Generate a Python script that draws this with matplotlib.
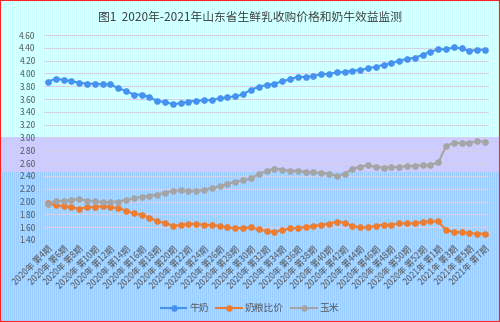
import numpy as np
import matplotlib
matplotlib.use('Agg')
import matplotlib.pyplot as plt
from matplotlib.patches import Rectangle

plt.rcParams['font.family'] = ['Noto Sans CJK SC', 'DejaVu Sans']

# -----------------------------------------------------------------------------
# data

weeks = ['2020年 第%d期' % w for w in range(4, 54)] + \
        ['2021年 第%d期' % w for w in range(1, 8)]

milk = [3.87, 3.92, 3.90, 3.88, 3.855, 3.84, 3.84, 3.83, 3.83, 3.77,
        3.725, 3.67, 3.67, 3.63, 3.57, 3.555, 3.52, 3.535, 3.56, 3.575,
        3.58, 3.585, 3.61, 3.63, 3.64, 3.675, 3.745, 3.79, 3.82, 3.84,
        3.875, 3.91, 3.945, 3.945, 3.96, 3.99, 3.99, 4.02, 4.02, 4.045,
        4.05, 4.08, 4.105, 4.135, 4.16, 4.20, 4.225, 4.245, 4.29, 4.34,
        4.375, 4.38, 4.405, 4.39, 4.35, 4.37, 4.37]

ratio = [1.985, 1.94, 1.93, 1.91, 1.89, 1.91, 1.915, 1.925, 1.915, 1.895,
         1.86, 1.815, 1.795, 1.75, 1.69, 1.665, 1.625, 1.63, 1.655, 1.645,
         1.64, 1.63, 1.62, 1.595, 1.585, 1.59, 1.595, 1.565, 1.54, 1.525,
         1.555, 1.58, 1.585, 1.605, 1.62, 1.635, 1.655, 1.685, 1.67, 1.615,
         1.595, 1.595, 1.625, 1.635, 1.64, 1.66, 1.66, 1.66, 1.685, 1.69,
         1.69, 1.555, 1.525, 1.52, 1.505, 1.50, 1.50]

corn = [1.965, 2.01, 2.01, 2.025, 2.04, 2.015, 2.005, 1.99, 1.995, 2.0,
        2.025, 2.05, 2.075, 2.09, 2.11, 2.14, 2.165, 2.175, 2.17, 2.17,
        2.18, 2.21, 2.24, 2.275, 2.31, 2.33, 2.36, 2.43, 2.475, 2.515,
        2.50, 2.48, 2.48, 2.465, 2.455, 2.45, 2.435, 2.40, 2.43, 2.515,
        2.54, 2.57, 2.54, 2.53, 2.535, 2.54, 2.55, 2.56, 2.57, 2.57,
        2.61, 2.865, 2.92, 2.91, 2.92, 2.945, 2.93]

series_names = ['牛奶', '奶粮比价', '玉米']
colors = ['#4592f0', '#ed7d31', '#a5a5a5']
title = '图1  2020年-2021年山东省生鲜乳收购价格和奶牛效益监测'

# -----------------------------------------------------------------------------

fig = plt.figure(figsize=(5, 3.22), dpi=100)

# striped background like the original picture
W, H = 500, 322
bg_img = np.zeros((H, W, 3))
cyan_a = np.array([0xcc, 0xff, 0xff]) / 255
cyan_b = np.array([0xe6, 0xff, 0xff]) / 255
lav = np.array([0xcc, 0xcc, 0xff]) / 255
blue = np.array([0x99, 0xcc, 0xff]) / 255
for c in range(W):
    bg_img[:137, c] = cyan_a if c % 2 == 0 else cyan_b
    bg_img[137:172, c] = lav
    bg_img[172:, c] = blue if c % 2 == 0 else lav
bg = fig.add_axes([0, 0, 1, 1])
bg.imshow(bg_img, extent=[0, W, H, 0], aspect='auto', interpolation='nearest')
bg.set_xlim(0, W)
bg.set_ylim(H, 0)
bg.axis('off')
bg.set_zorder(0)

ax = fig.add_axes([0.088, 0.2547, 0.89, 0.6366])
ax.set_zorder(1)
ax.patch.set_alpha(0)

x = np.arange(len(weeks))
for vals, name, col in zip([milk, ratio, corn], series_names, colors):
    ax.plot(x, vals, color=col, lw=1.5, marker='o', markersize=3.8,
            label=name, zorder=3)

ax.set_xlim(-0.5, len(weeks) - 0.5)
ax.set_ylim(1.4, 4.6)
ax.set_yticks(np.arange(1.4, 4.61, 0.2))
ax.set_yticklabels(['%.2f' % v for v in np.arange(1.4, 4.61, 0.2)])
ax.grid(axis='y', color='#dccfe4', lw=0.8)
ax.set_axisbelow(True)

ax.set_xticks(x[::2])
ax.set_xticklabels(weeks[::2], rotation=45, ha='right',
                   rotation_mode='anchor')
ax.tick_params(axis='x', length=0, labelsize=6.2, labelcolor='#595959', pad=3)
ax.tick_params(axis='y', length=0, labelsize=6, labelcolor='#595959', pad=6)
for s in ax.spines.values():
    s.set_visible(False)

fig.text(0.5, 0.947, title, ha='center', va='center', fontsize=8.5,
         color='#404040')

fig.legend(loc='lower center', bbox_to_anchor=(0.5, 0.0), ncol=3,
           frameon=False, fontsize=7, handlelength=2.6, columnspacing=0.8,
           handletextpad=0.3, labelcolor='#595959')

fig.patches.append(Rectangle((0, 0), 1, 1, transform=fig.transFigure,
                             fill=False, edgecolor='#ff2020', lw=1.5,
                             zorder=10))

fig.savefig('out.png', dpi=100)
